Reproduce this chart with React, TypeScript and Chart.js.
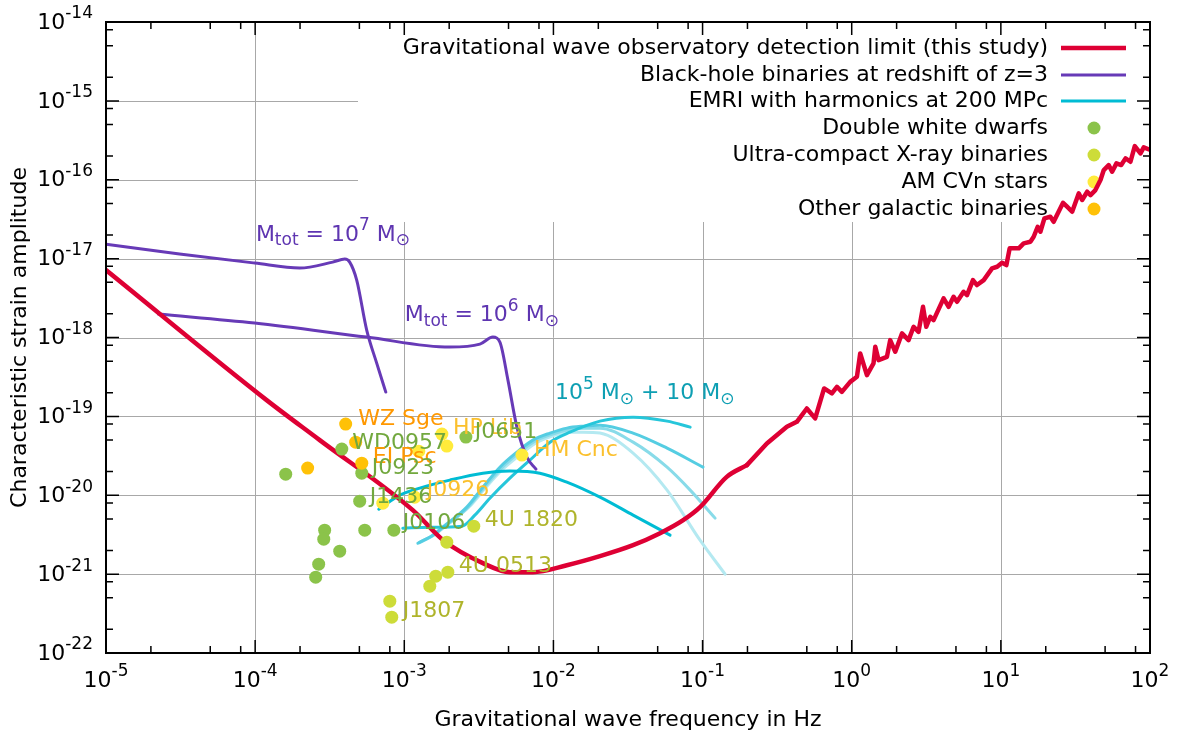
import React, { useEffect, useRef } from "react";
import { Chart, registerables } from "chart.js";
Chart.register(...registerables);

// ---- data (log10 of frequency in Hz, log10 of characteristic strain) ----
// detection limit: smooth low-frequency part
const detectionLowLogF = [-5.0, -3.923, -3.567, -2.943, -2.739, -2.473, -2.292, -2.138, -1.91, -1.688, -1.466, -1.285, -1.13, -1.017, -0.838, -0.703];
const detectionLowLogH = [-17.145, -18.794, -19.301, -20.189, -20.57, -20.861, -20.975, -20.975, -20.887, -20.772, -20.633, -20.481, -20.316, -20.151, -19.767, -19.618];
// detection limit: noisy high-frequency part
const detectionHighLogF = [-0.703, -0.569, -0.435, -0.368, -0.301, -0.245, -0.185, -0.133, -0.099, -0.066, -0.01, 0.035, 0.057, 0.102, 0.146, 0.158, 0.18, 0.236, 0.258, 0.292, 0.337, 0.381, 0.415, 0.448, 0.478, 0.5, 0.527, 0.549, 0.616, 0.65, 0.683, 0.706, 0.75, 0.773, 0.813, 0.84, 0.885, 0.941, 0.975, 1.008, 1.037, 1.059, 1.12, 1.153, 1.198, 1.22, 1.247, 1.265, 1.292, 1.332, 1.354, 1.417, 1.444, 1.478, 1.522, 1.545, 1.579, 1.601, 1.634, 1.668, 1.69, 1.723, 1.746, 1.775, 1.807, 1.836, 1.869, 1.898, 1.936, 1.958, 2.003];
const detectionHighLogH = [-19.618, -19.343, -19.132, -19.069, -18.9, -19.026, -18.646, -18.709, -18.625, -18.689, -18.562, -18.498, -18.202, -18.477, -18.329, -18.118, -18.287, -18.245, -18.033, -18.181, -17.948, -18.033, -17.864, -17.928, -17.611, -17.864, -17.737, -17.779, -17.504, -17.611, -17.484, -17.547, -17.42, -17.462, -17.272, -17.335, -17.272, -17.124, -17.103, -17.053, -17.082, -16.87, -16.87, -16.807, -16.786, -16.723, -16.596, -16.659, -16.49, -16.469, -16.533, -16.292, -16.342, -16.406, -16.173, -16.257, -16.152, -16.194, -16.131, -16.004, -15.877, -15.814, -15.898, -15.792, -15.814, -15.729, -15.772, -15.573, -15.666, -15.589, -15.623];

const bh7LogF = [-5.0, -4.507, -4.003, -3.701, -3.48, -3.399, -3.366, -3.319, -3.252, -3.185, -3.124];
const bh7LogH = [-16.816, -16.942, -17.056, -17.12, -17.044, -17.006, -17.044, -17.272, -17.906, -18.325, -18.692];
const bh6LogF = [-4.648, -4.003, -3.252, -2.695, -2.493, -2.406, -2.359, -2.305, -2.245, -2.178, -2.117];
const bh6LogH = [-17.703, -17.817, -17.995, -18.122, -18.084, -17.995, -18.058, -18.54, -19.136, -19.517, -19.669];

const emriALogF = [-3.171, -3.03, -2.896, -2.695, -2.473, -2.292, -2.091, -1.91, -1.688, -1.466, -1.218];
const emriALogH = [-20.176, -19.999, -19.91, -19.808, -19.72, -19.694, -19.72, -19.834, -20.024, -20.252, -20.506];
const emriBLogF = [-3.01, -2.829, -2.614, -2.527, -2.426, -2.292, -2.158, -2.023, -1.889, -1.688, -1.466, -1.238, -1.083];
const emriBLogH = [-20.417, -20.405, -20.392, -20.252, -20.037, -19.783, -19.555, -19.327, -19.2, -19.06, -19.01, -19.06, -19.136];
const emriCLogF = [-2.909, -2.809, -2.742, -2.581, -2.473, -2.359, -2.245, -2.138, -2.023, -1.909, -1.802, -1.688, -1.466, -1.238, -0.997];
const emriCLogH = [-20.608, -20.506, -20.405, -20.151, -19.897, -19.644, -19.453, -19.301, -19.212, -19.149, -19.124, -19.111, -19.212, -19.403, -19.644];
const emriDLogF = [-2.899, -2.8, -2.732, -2.571, -2.463, -2.35, -2.236, -2.13, -2.016, -1.903, -1.802, -1.688, -1.466, -1.238, -1.083, -0.916];
const emriDLogH = [-20.6, -20.5, -20.4, -20.15, -19.9, -19.66, -19.47, -19.32, -19.23, -19.17, -19.149, -19.149, -19.327, -19.644, -19.935, -20.29];
const emriELogF = [-2.889, -2.79, -2.722, -2.561, -2.453, -2.34, -2.226, -2.12, -2.008, -1.897, -1.802, -1.688, -1.466, -1.238, -1.017, -0.849];
const emriELogH = [-20.59, -20.49, -20.39, -20.14, -19.9, -19.67, -19.49, -19.34, -19.25, -19.2, -19.2, -19.212, -19.466, -19.935, -20.57, -21.001];

const dwdLogF = [-3.419, -2.587, -3.285, -3.795, -3.299, -3.534, -3.54, -3.265, -3.07, -3.433, -3.574, -3.594];
const dwdLogH = [-19.415, -19.263, -19.72, -19.733, -20.075, -20.443, -20.557, -20.443, -20.443, -20.709, -20.874, -21.039];
const ucxbLogF = [-2.534, -2.715, -2.708, -2.789, -2.829, -3.097, -3.084];
const ucxbLogH = [-20.392, -20.595, -20.975, -21.026, -21.153, -21.343, -21.546];
const amcvnLogF = [-2.903, -2.748, -2.715, -2.211, -3.144, -2.93];
const amcvnLogH = [-19.441, -19.225, -19.377, -19.491, -20.1, -20.024];
const otherLogF = [-3.393, -3.326, -3.648, -3.285];
const otherLogH = [-19.098, -19.327, -19.656, -19.593];

const sourceNames = ["WZ Sge", "WD0957", "HP Lib", "J0651", "EI Psc", "J0923", "J1436", "J0926", "J0106", "4U 1820", "4U 0513", "J1807", "HM Cnc"];
const sourceKinds = ["other", "dwd", "amcvn", "dwd", "other", "dwd", "dwd", "amcvn", "dwd", "ucxb", "ucxb", "ucxb", "amcvn"];
const sourceLogF = [-3.309, -3.349, -2.674, -2.527, -3.211, -3.218, -3.232, -2.849, -3.01, -2.46, -2.634, -3.01, -2.131];
const sourceLogH = [-19.035, -19.339, -19.149, -19.2, -19.517, -19.656, -20.024, -19.935, -20.354, -20.316, -20.899, -21.47, -19.428];

const legendLabels = [
  "Gravitational wave observatory detection limit (this study)",
  "Black-hole binaries at redshift of z=3",
  "EMRI with harmonics at 200 MPc",
  "Double white dwarfs",
  "Ultra-compact X-ray binaries",
  "AM CVn stars",
  "Other galactic binaries",
];

const xDecades = [-5, -4, -3, -2, -1, 0, 1, 2];
const yDecades = [-22, -21, -20, -19, -18, -17, -16, -15, -14];
const minorMantissas = [2, 5, 8];

// ---- styles ----
const FONT = '"DejaVu Sans", sans-serif';
const RED = "#de0034";
const PURPLE = "#673ab7";
const CYAN = "#00bcd4";
const CYAN2 = "#26c6da";
const CYAN3 = "#55cde2";
const CYAN4 = "#88dbe9";
const CYAN5 = "#b4e9f1";
const GREEN = "#8bc34a";
const LIME = "#cddc39";
const YELLOW = "#ffeb3b";
const AMBER = "#ffc107";
const kindTextColor: Record<string, string> = {
  other: "#ff9800",
  dwd: "#72a83e",
  amcvn: "#fbc02d",
  ucxb: "#afb42b",
};

const pts = (lf: number[], lh: number[]) => lf.map((f, i) => ({ x: Math.pow(10, f), y: Math.pow(10, lh[i]) }));

type Seg = [string, number, number];
function drawRich(ctx: CanvasRenderingContext2D, x: number, y: number, segs: Seg[], align: string, color: string) {
  let total = 0;
  for (const [t, s] of segs) {
    ctx.font = `${s}px ${FONT}`;
    total += ctx.measureText(t).width;
  }
  let cx = align === "right" ? x - total : align === "center" ? x - total / 2 : x;
  ctx.fillStyle = color;
  ctx.textAlign = "left";
  ctx.textBaseline = "middle";
  for (const [t, s, dy] of segs) {
    ctx.font = `${s}px ${FONT}`;
    ctx.fillText(t, cx, y + dy);
    cx += ctx.measureText(t).width;
  }
}

const BOX = { x0: 358, y0: 22, x1: 1150, y1: 222 };

const backgroundPlugin = {
  id: "gnuplotBack",
  beforeDatasetsDraw(chart: any) {
    const { ctx, chartArea: a, scales } = chart;
    const xs = scales.x, ys = scales.y;
    ctx.save();
    ctx.fillStyle = "#ffffff";
    ctx.fillRect(0, 0, chart.width, chart.height);
    ctx.strokeStyle = "#a8a8a8";
    ctx.lineWidth = 1;
    ctx.beginPath();
    for (const d of xDecades) {
      const px = Math.round(xs.getPixelForValue(Math.pow(10, d))) + 0.5;
      if (px < a.left + 2 || px > a.right - 2) continue;
      ctx.moveTo(px, a.top);
      ctx.lineTo(px, a.bottom);
    }
    for (const d of yDecades) {
      const py = Math.round(ys.getPixelForValue(Math.pow(10, d))) + 0.5;
      if (py < a.top + 2 || py > a.bottom - 2) continue;
      ctx.moveTo(a.left, py);
      ctx.lineTo(a.right, py);
    }
    ctx.stroke();
    // key box (white)
    ctx.fillStyle = "#ffffff";
    ctx.fillRect(BOX.x0, BOX.y0, BOX.x1 - BOX.x0, BOX.y1 - BOX.y0);
    // legend
    const rows = [48, 75, 101, 128, 155, 182, 209];
    const lineCols = [RED, PURPLE, CYAN];
    const lineW = [4.5, 3, 3];
    const dotCols = [GREEN, LIME, YELLOW, AMBER];
    legendLabels.forEach((lab, i) => {
      drawRich(ctx, 1048, rows[i], [[lab, 22, 0]], "right", "#000000");
      if (i < 3) {
        ctx.strokeStyle = lineCols[i];
        ctx.lineWidth = lineW[i];
        ctx.beginPath();
        ctx.moveTo(1061, rows[i]);
        ctx.lineTo(1126, rows[i]);
        ctx.stroke();
      } else {
        ctx.fillStyle = dotCols[i - 3];
        ctx.beginPath();
        ctx.arc(1094, rows[i], 6.5, 0, Math.PI * 2);
        ctx.fill();
      }
    });
    ctx.restore();
  },
  afterDatasetsDraw(chart: any) {
    const { ctx, chartArea: a, scales } = chart;
    const xs = scales.x, ys = scales.y;
    ctx.save();
    // source labels
    sourceNames.forEach((n, i) => {
      const px = xs.getPixelForValue(Math.pow(10, sourceLogF[i]));
      const py = ys.getPixelForValue(Math.pow(10, sourceLogH[i]));
      drawRich(ctx, px, py, [[n, 22, 0]], "left", kindTextColor[sourceKinds[i]]);
    });
    // curve labels
    const l7x = xs.getPixelForValue(Math.pow(10, -3.995));
    const l7y = ys.getPixelForValue(Math.pow(10, -16.701));
    drawRich(ctx, l7x, l7y, [["M", 22, 0], ["tot", 17, 6], [" = 10", 22, 0], ["7", 17, -9], [" M", 22, 0], ["\u2299", 17, 6]], "left", "#5e35b1");
    const l6x = xs.getPixelForValue(Math.pow(10, -2.997));
    const l6y = ys.getPixelForValue(Math.pow(10, -17.716));
    drawRich(ctx, l6x, l6y, [["M", 22, 0], ["tot", 17, 6], [" = 10", 22, 0], ["6", 17, -9], [" M", 22, 0], ["\u2299", 17, 6]], "left", "#5e35b1");
    const lex = xs.getPixelForValue(Math.pow(10, -1.99));
    const ley = ys.getPixelForValue(Math.pow(10, -18.705));
    drawRich(ctx, lex, ley, [["10", 22, 0], ["5", 17, -9], [" M", 22, 0], ["\u2299", 17, 6], [" + 10 M", 22, 0], ["\u2299", 17, 6]], "left", "#0e9fb3");

    // frame
    ctx.strokeStyle = "#000000";
    ctx.lineWidth = 2;
    ctx.strokeRect(a.left, a.top, a.right - a.left, a.bottom - a.top);
    // ticks
    ctx.lineWidth = 1.5;
    ctx.beginPath();
    const MAJ = 13, MIN = 7;
    for (const d of xDecades) {
      const px = xs.getPixelForValue(Math.pow(10, d));
      ctx.moveTo(px, a.bottom); ctx.lineTo(px, a.bottom - MAJ);
      ctx.moveTo(px, a.top); ctx.lineTo(px, a.top + MAJ);
      if (d < 2) for (const m of minorMantissas) {
        const q = xs.getPixelForValue(m * Math.pow(10, d));
        ctx.moveTo(q, a.bottom); ctx.lineTo(q, a.bottom - MIN);
        ctx.moveTo(q, a.top); ctx.lineTo(q, a.top + MIN);
      }
    }
    for (const d of yDecades) {
      const py = ys.getPixelForValue(Math.pow(10, d));
      ctx.moveTo(a.left, py); ctx.lineTo(a.left + MAJ, py);
      ctx.moveTo(a.right, py); ctx.lineTo(a.right - MAJ, py);
      if (d < -14) for (const m of minorMantissas) {
        const q = ys.getPixelForValue(m * Math.pow(10, d));
        ctx.moveTo(a.left, q); ctx.lineTo(a.left + MIN, q);
        ctx.moveTo(a.right, q); ctx.lineTo(a.right - MIN, q);
      }
    }
    ctx.stroke();
    // tick labels
    for (const d of xDecades) {
      const px = xs.getPixelForValue(Math.pow(10, d));
      drawRich(ctx, px, 681, [["10", 22, 0], [String(d), 17, -9]], "center", "#000000");
    }
    for (const d of yDecades) {
      const py = ys.getPixelForValue(Math.pow(10, d));
      drawRich(ctx, 93, py + 1, [["10", 22, 0], [String(d), 17, -9]], "right", "#000000");
    }
    // axis titles
    drawRich(ctx, (a.left + a.right) / 2, 720, [["Gravitational wave frequency in Hz", 22, 0]], "center", "#000000");
    ctx.translate(20, (a.top + a.bottom) / 2);
    ctx.rotate(-Math.PI / 2);
    drawRich(ctx, 0, 0, [["Characteristic strain amplitude", 22, 0]], "center", "#000000");
    ctx.restore();
  },
};

export default function App() {
  const ref = useRef<HTMLCanvasElement | null>(null);
  useEffect(() => {
    document.body.style.margin = "0";
    const canvas = ref.current;
    if (!canvas) return;
    const lineDs = (label: string, lf: number[], lh: number[], color: string, w: number, smooth = true) => ({
      label,
      data: pts(lf, lh),
      showLine: true,
      borderColor: color,
      backgroundColor: color,
      borderWidth: w,
      pointRadius: 0,
      pointHoverRadius: 0,
      tension: 0,
      cubicInterpolationMode: smooth ? ("monotone" as const) : ("default" as const),
      borderCapStyle: "round" as const,
      borderJoinStyle: "round" as const,
    });
    const dotDs = (label: string, lf: number[], lh: number[], color: string) => ({
      label,
      data: pts(lf, lh),
      showLine: false,
      backgroundColor: color,
      borderColor: color,
      borderWidth: 0,
      pointRadius: 6.5,
      pointHoverRadius: 6.5,
    });
    const chart = new Chart(canvas, {
      type: "scatter",
      data: {
        datasets: [
          { ...dotDs("Other galactic binaries", otherLogF, otherLogH, AMBER), order: 1 },
          { ...dotDs("AM CVn stars", amcvnLogF, amcvnLogH, YELLOW), order: 2 },
          { ...dotDs("Ultra-compact X-ray binaries", ucxbLogF, ucxbLogH, LIME), order: 3 },
          { ...dotDs("Double white dwarfs", dwdLogF, dwdLogH, GREEN), order: 4 },
          { ...lineDs("Detection limit (low f)", detectionLowLogF, detectionLowLogH, RED, 4.5, true), order: 5 },
          { ...lineDs("Detection limit (high f)", detectionHighLogF, detectionHighLogH, RED, 4.5, false), order: 5 },
          { ...lineDs("BH 1e6", bh6LogF, bh6LogH, PURPLE, 3), order: 6 },
          { ...lineDs("BH 1e7", bh7LogF, bh7LogH, PURPLE, 3), order: 7 },
          { ...lineDs("EMRI A", emriALogF, emriALogH, CYAN, 3), order: 8 },
          { ...lineDs("EMRI B", emriBLogF, emriBLogH, CYAN2, 3), order: 9 },
          { ...lineDs("EMRI C", emriCLogF, emriCLogH, CYAN3, 3), order: 10 },
          { ...lineDs("EMRI D", emriDLogF, emriDLogH, CYAN4, 3), order: 11 },
          { ...lineDs("EMRI E", emriELogF, emriELogH, CYAN5, 3), order: 12 },
        ] as any,
      },
      options: {
        animation: false,
        responsive: false,
        devicePixelRatio: 1,
        layout: { padding: { left: 106, top: 22, right: 27, bottom: 83 } },
        plugins: { legend: { display: false }, tooltip: { enabled: false } },
        events: [],
        scales: {
          x: { type: "logarithmic", min: 1e-5, max: 1e2, display: false },
          y: { type: "logarithmic", min: 1e-22, max: 1e-14, display: false },
        },
      },
      plugins: [backgroundPlugin],
    });
    return () => chart.destroy();
  }, []);
  return <canvas ref={ref} width={1177} height={736} style={{ display: "block" }} />;
}
